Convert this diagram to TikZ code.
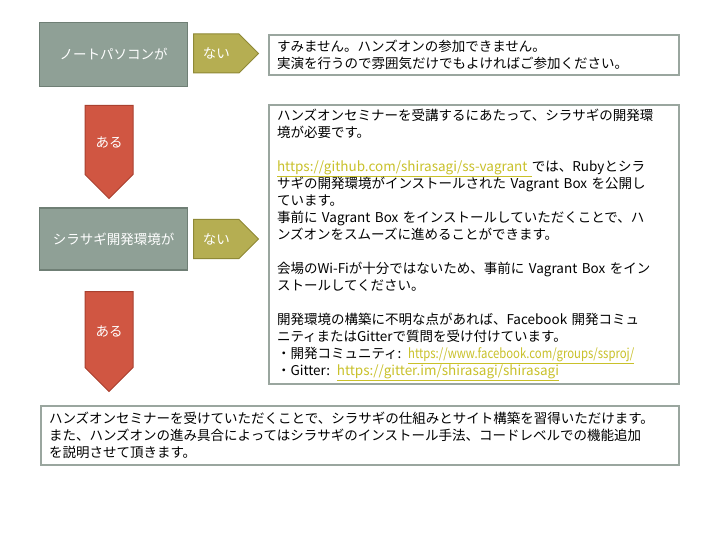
\documentclass[tikz,border=0pt]{standalone}
\usepackage{fontspec}
\setmainfont{Noto Sans CJK JP}
\usetikzlibrary{shapes.symbols}
\definecolor{sage}{HTML}{8FA096}
\definecolor{sagedark}{HTML}{6F7F75}
\definecolor{moss}{HTML}{B5AE52}
\definecolor{mossdark}{HTML}{8F8936}
\definecolor{brick}{HTML}{D05642}
\definecolor{brickdark}{HTML}{A9402F}
\definecolor{framegray}{HTML}{9AA69F}
\definecolor{weblink}{HTML}{C9C12A}
\newcommand\urltext[1]{\textcolor{weblink}{\underline{#1}}}

\begin{document}
\begin{tikzpicture}[x=1pt,y=-1pt,
  font=\fontsize{13.5}{17}\selectfont,
  cond/.style={draw=sagedark,line width=1.5pt,fill=sage,text=white,
    minimum width=148pt,inner sep=0pt},
  nobox/.style={signal,signal to=east,signal pointer angle=90,draw=mossdark,
    fill=moss,line width=1pt,text=white,minimum width=65pt,minimum height=39pt,
    inner sep=0pt,anchor=west},
  yesbox/.style={signal,signal to=south,signal pointer angle=90,draw=brickdark,
    fill=brick,line width=1pt,minimum width=48pt,inner sep=0pt,anchor=north,
    label={[text=white,yshift=-2pt]center:ある}},
  msg/.style={draw=framegray,line width=2pt,fill=white,anchor=north west,
    align=left,inner xsep=8pt,inner ysep=0pt}]
  \useasboundingbox[fill=white] (0,0) rectangle (720,540);
  % first question
  \node[cond,minimum height=64pt] (laptop) at (113.5,54.5) {ノートパソコンが};
  \node[nobox] (nolaptop) at (193,53.5) {ない};
  \node[msg,text width=394pt,minimum height=40pt] (sorry) at (268,34)
    {すみません。ハンズオンの参加できません。\\
     実演を行うので雰囲気だけでもよければご参加ください。};
  \node[yesbox,minimum height=69pt] (hasLaptop) at (109,105) {};
  % second question
  \node[cond,minimum height=62pt] (devenv) at (113.5,239) {シラサギ開発環境が};
  \node[nobox] (nodevenv) at (193,239) {ない};
  \node[msg,text width=394pt,minimum height=279pt] (setup) at (268,104)
    {ハンズオンセミナーを受講するにあたって、シラサギの開発環\\
     境が必要です。\\[17pt]
     \urltext{https://github.com/shirasagi/ss-vagrant }では、Rubyとシラ\\
     サギの開発環境がインストールされた Vagrant Box を公開し\\
     ています。\\
     事前に Vagrant Box をインストールしていただくことで、ハ\\
     ンズオンをスムーズに進めることができます。\\[17pt]
     会場のWi-Fiが十分ではないため、事前に Vagrant Box をイン\\
     ストールしてください。\\[17pt]
     開発環境の構築に不明な点があれば、Facebook 開発コミュ\\
     ニティまたはGitterで質問を受け付けています。\\
     ・開発コミュニティ: \urltext{\scalebox{0.84}[1]{https://www.facebook.com/groups/ssproj/}}\\
     ・Gitter: \urltext{https://gitter.im/shirasagi/shirasagi}};
  \node[yesbox,minimum height=76pt] (hasDevenv) at (109,291) {};
  % result
  \node[msg,text width=622pt,minimum height=59pt] (handson) at (40,405)
    {ハンズオンセミナーを受けていただくことで、シラサギの仕組みとサイト構築を習得いただけます。\\
     また、ハンズオンの進み具合によってはシラサギのインストール手法、コードレベルでの機能追加\\
     を説明させて頂きます。};
\end{tikzpicture}
\end{document}
